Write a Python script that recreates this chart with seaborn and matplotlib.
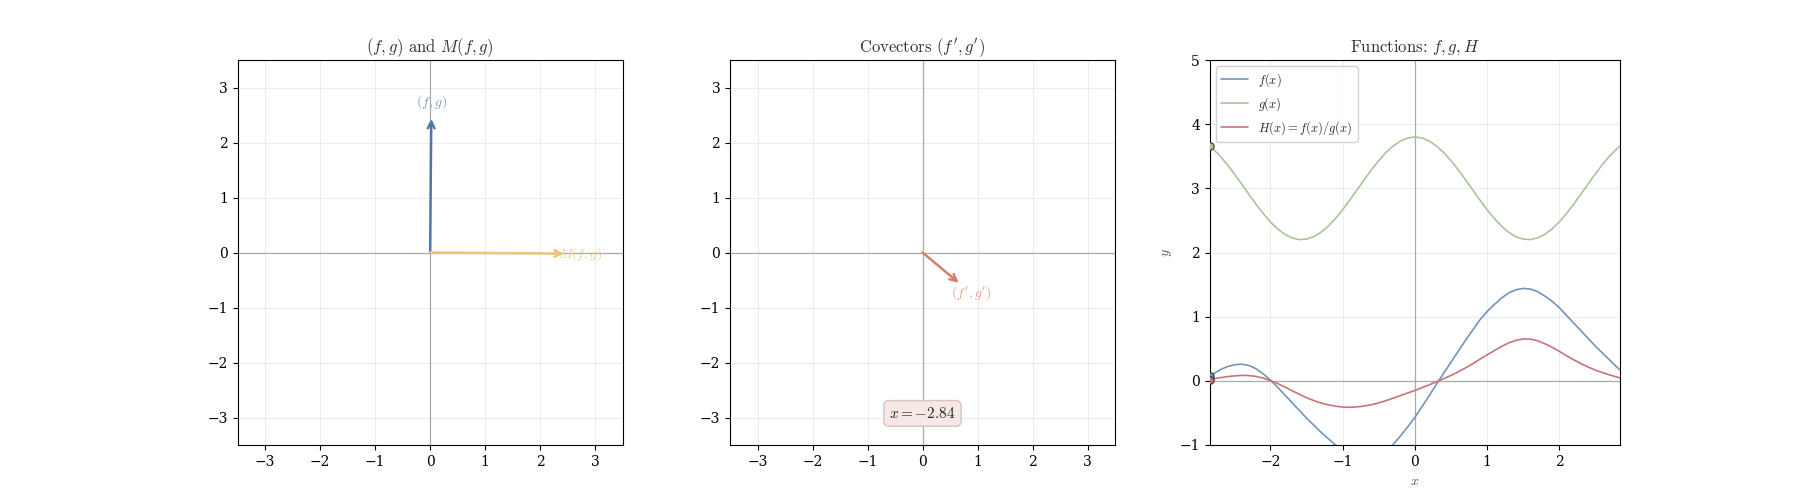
import numpy as np
import pandas as pd
import seaborn as sns
import matplotlib.pyplot as plt

# sample positions and curve values
x_vals = [-2.84, -2.8, -2.7, -2.6, -2.5, -2.4, -2.3, -2.2, -2.1, -2.0,
          -1.9, -1.8, -1.7, -1.6, -1.5, -1.4, -1.3, -1.2, -1.1, -1.0,
          -0.9, -0.8, -0.7, -0.6, -0.5, -0.4, -0.3, -0.2, -0.1, 0.0,
          0.1, 0.2, 0.3, 0.4, 0.5, 0.6, 0.7, 0.8, 0.9, 1.0,
          1.1, 1.2, 1.3, 1.4, 1.5, 1.6, 1.7, 1.8, 1.9, 2.0,
          2.1, 2.2, 2.3, 2.4, 2.5, 2.6, 2.7, 2.8, 2.84]
f_vals = [0.07, 0.10, 0.17, 0.22, 0.25, 0.26, 0.24, 0.19, 0.11, 0.01,
          -0.10, -0.22, -0.34, -0.46, -0.58, -0.69, -0.80, -0.90, -1.00, -1.09,
          -1.16, -1.21, -1.23, -1.22, -1.18, -1.10, -0.99, -0.86, -0.72, -0.57,
          -0.40, -0.23, -0.05, 0.12, 0.29, 0.46, 0.63, 0.79, 0.95, 1.08,
          1.19, 1.29, 1.37, 1.42, 1.44, 1.43, 1.39, 1.32, 1.24, 1.14,
          1.02, 0.90, 0.78, 0.66, 0.54, 0.43, 0.32, 0.21, 0.17]
g_vals = [3.659, 3.620, 3.508, 3.375, 3.227, 3.070, 2.910, 2.754, 2.608, 2.477,
          2.367, 2.283, 2.227, 2.201, 2.208, 2.246, 2.314, 2.410, 2.529, 2.667,
          2.818, 2.977, 3.136, 3.290, 3.432, 3.557, 3.660, 3.737, 3.784, 3.800,
          3.784, 3.737, 3.660, 3.557, 3.432, 3.290, 3.136, 2.977, 2.818, 2.667,
          2.529, 2.410, 2.314, 2.246, 2.208, 2.201, 2.227, 2.283, 2.367, 2.477,
          2.608, 2.754, 2.910, 3.070, 3.227, 3.375, 3.508, 3.620, 3.659]
h_vals = [0.019, 0.028, 0.048, 0.065, 0.077, 0.085, 0.082, 0.069, 0.042, 0.004,
          -0.042, -0.096, -0.153, -0.209, -0.263, -0.307, -0.346, -0.373, -0.395, -0.409,
          -0.412, -0.406, -0.392, -0.371, -0.344, -0.309, -0.270, -0.230, -0.190, -0.150,
          -0.106, -0.062, -0.014, 0.034, 0.084, 0.140, 0.201, 0.265, 0.337, 0.405,
          0.471, 0.535, 0.592, 0.632, 0.652, 0.650, 0.624, 0.578, 0.524, 0.460,
          0.391, 0.327, 0.268, 0.215, 0.167, 0.127, 0.091, 0.058, 0.046]

# vectors at the current point
x_current = -2.84
fg_vec = [0.02, 2.43]
m_vec = [2.43, -0.02]
cov_vec = [0.66, -0.55]

df = pd.DataFrame({"x": x_vals, "f": f_vals, "g": g_vals, "H": h_vals})

sns.set_style("ticks")
plt.rcParams["font.family"] = ["DejaVu Serif"]
plt.rcParams["mathtext.fontset"] = "cm"
plt.rcParams["axes.edgecolor"] = "black"
plt.rcParams["xtick.color"] = "black"
plt.rcParams["ytick.color"] = "black"
plt.rcParams["xtick.labelcolor"] = "black"
plt.rcParams["ytick.labelcolor"] = "black"
plt.rcParams["xtick.major.size"] = 3.5
plt.rcParams["ytick.major.size"] = 3.5

c_f = "#7394bd"
c_g = "#a9c59b"
c_h = "#c97379"
c_vec = "#5075aa"
c_m = "#eec27e"
c_cov = "#d27f6c"

fig, axes = plt.subplots(1, 3, figsize=(18, 5))


def base(ax, lim):
    ax.set_xlim(-lim, lim)
    ax.set_ylim(-lim, lim)
    ax.set_aspect("equal")
    ax.set_xticks(range(-3, 4))
    ax.set_yticks(range(-3, 4))
    ax.grid(True, color="#dddddd", lw=0.6, alpha=0.6)
    ax.axhline(0, color="#aaaaaa", lw=0.9, zorder=1)
    ax.axvline(0, color="#aaaaaa", lw=0.9, zorder=1)


def arrow(ax, vec, color, label, lcolor):
    ax.annotate("", xy=(vec[0], vec[1]), xytext=(0, 0),
                arrowprops=dict(arrowstyle="->", color=color, lw=1.8, mutation_scale=12,
                                shrinkA=0, shrinkB=0))
    n = np.hypot(vec[0], vec[1])
    lx = vec[0] + 0.3 * vec[0] / n
    ly = vec[1] + 0.3 * vec[1] / n
    ax.text(lx, ly, label, color=lcolor, fontsize=10, ha="center", va="center")


title_kw = dict(fontsize=12, color="#333333", family="cmr10")

ax1 = axes[0]
base(ax1, 3.5)
arrow(ax1, fg_vec, c_vec, r"$(f,g)$", "#7f9bc4")
arrow(ax1, m_vec, c_m, r"$M(f,g)$", "#f0cc92")
ax1.set_title(r"$(f,g)$ and $M(f,g)$", **title_kw)

ax2 = axes[1]
base(ax2, 3.5)
arrow(ax2, cov_vec, c_cov, r"$(f',g')$", "#e0a090")
ax2.set_title(r"Covectors $(f',g')$", **title_kw)
ax2.text(0.5, 0.082, rf"$x = {x_current:.2f}$", transform=ax2.transAxes, fontsize=11,
         ha="center", va="center",
         bbox=dict(boxstyle="round,pad=0.35", fc="#f6e8e4", ec="#d9c4bf", lw=1))

ax3 = axes[2]
sns.lineplot(data=df, x="x", y="f", ax=ax3, color=c_f, lw=1.2, label=r"$f(x)$")
sns.lineplot(data=df, x="x", y="g", ax=ax3, color=c_g, lw=1.2, label=r"$g(x)$")
sns.lineplot(data=df, x="x", y="H", ax=ax3, color=c_h, lw=1.2, label=r"$H(x) = f(x)/g(x)$")
cur = df[df["x"] == x_current]
for col, c in (("f", c_f), ("g", c_g), ("H", c_h)):
    sns.scatterplot(x=cur["x"], y=cur[col], ax=ax3, color=c, edgecolor="#333333",
                    linewidth=0.8, s=28, zorder=5, legend=False)
ax3.axhline(0, color="#aaaaaa", lw=0.9, zorder=1)
ax3.axvline(0, color="#aaaaaa", lw=0.9, zorder=1)
ax3.grid(True, color="#dddddd", lw=0.6, alpha=0.6)
ax3.set_xlim(-2.84, 2.84)
ax3.set_ylim(-1, 5)
ax3.set_xticks([-2, -1, 0, 1, 2])
ax3.set_yticks(range(-1, 6))
ax3.set_xlabel(r"$x$", color="#555555", fontsize=10)
ax3.set_ylabel(r"$y$", color="#555555", fontsize=10)
ax3.set_title(r"Functions: $f, g, H$", **title_kw)
ax3.legend(loc="upper left", fontsize=9, framealpha=0.85, edgecolor="#cccccc", handlelength=2.2)

plt.savefig("out.png", dpi=100)
